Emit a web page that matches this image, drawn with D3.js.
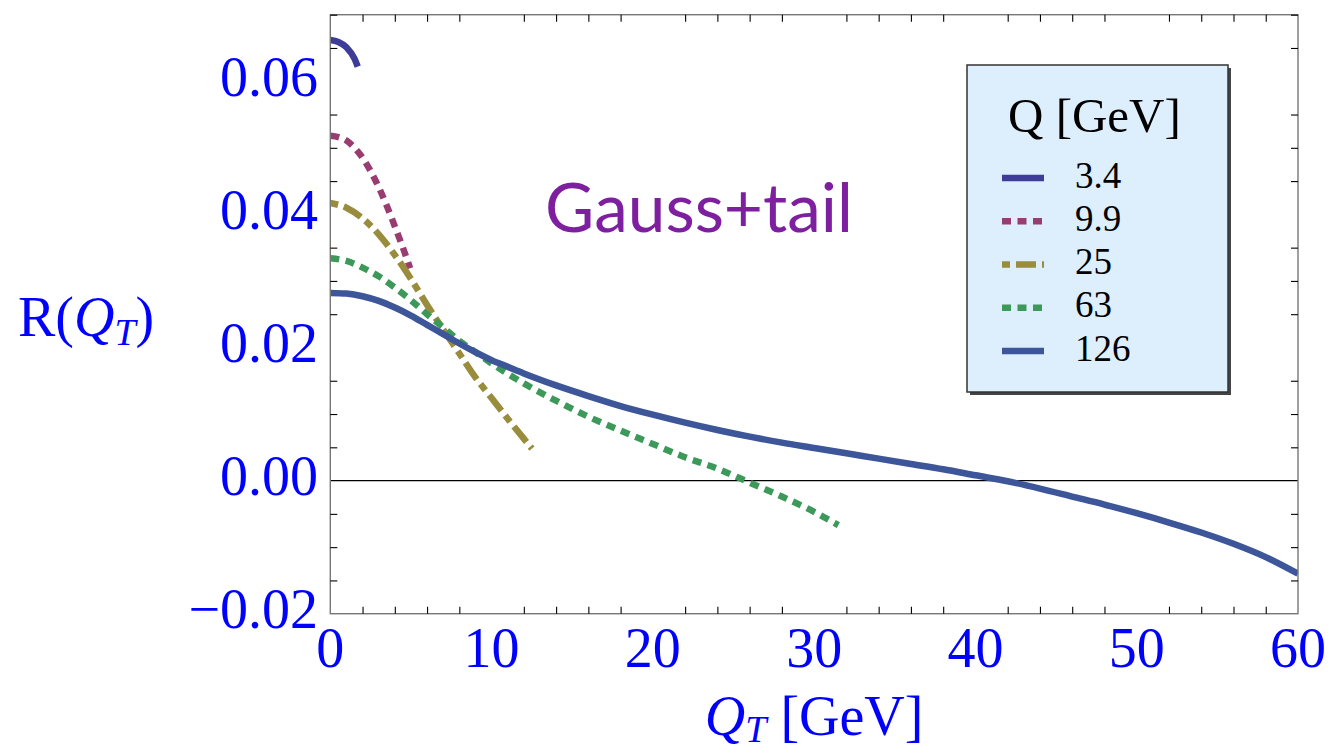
<!DOCTYPE html>
<html>
<head>
<meta charset="utf-8">
<script src="https://cdn.jsdelivr.net/npm/d3@7/dist/d3.min.js"></script>
<style>
  html, body { margin: 0; padding: 0; background: #fff; }
  svg { display: block; }
  .serif { font-family: "Liberation Serif", "Times New Roman", serif; }
</style>
</head>
<body>
<svg id="chart" width="1334" height="754"></svg>
<script>
// R(Q_T) for several hard scales Q, each curve runs up to Q_T = Q/2
const seriesNames = ["3.4", "9.9", "25", "63", "126"];

const qt34 = [0, 0.5, 1, 1.5, 1.7];
const r34  = [0.0662, 0.0659, 0.0651, 0.0634, 0.0622];

const qt99 = [0, 0.5, 1, 1.5, 2, 2.5, 3, 3.5, 4, 4.5, 4.95];
const r99  = [0.0518, 0.0516, 0.0511, 0.0500, 0.0485, 0.0465, 0.0441, 0.0413, 0.0382, 0.0350, 0.0319];

const qt25 = [0, 1, 2, 3, 4, 5, 6, 7, 8, 9, 10, 11, 12, 12.5];
const r25  = [0.0417, 0.0410, 0.0394, 0.0370, 0.0339, 0.0303, 0.0264, 0.0227, 0.0191, 0.0155, 0.0124, 0.0093, 0.0063, 0.0048];

const qt63 = [0, 1, 2, 3, 4, 5, 6, 7, 8, 9, 10, 12, 14, 16, 18, 20, 22, 24, 26, 28, 30, 31.5];
const r63  = [0.0334, 0.0330, 0.0320, 0.0307, 0.0290, 0.0271, 0.0250, 0.0230, 0.0210, 0.0193, 0.0176,
              0.0146, 0.0120, 0.0096, 0.0075, 0.0055, 0.0035, 0.0018, -0.0003, -0.0024, -0.0047, -0.0067];

const qt126 = [0, 1, 2, 3, 4, 5, 6, 7, 8, 9, 10, 11, 12, 14, 16, 18, 20, 22, 24, 26, 28, 30,
               32, 34, 36, 38, 40, 42, 44, 46, 48, 50, 52, 54, 56, 58, 60];
const r126  = [0.0282, 0.0281, 0.0277, 0.0270, 0.0260, 0.0248, 0.0234, 0.0220, 0.0206, 0.0193, 0.0181,
               0.0171, 0.0161, 0.0143, 0.0127, 0.0112, 0.0099, 0.0087, 0.0076, 0.0066, 0.0057, 0.0049,
               0.0041, 0.0033, 0.0025, 0.0017, 0.0008, -0.0001, -0.0012, -0.0024, -0.0036, -0.0049,
               -0.0063, -0.0078, -0.0095, -0.0115, -0.0140];

const xTickValues = [0, 10, 20, 30, 40, 50, 60];
const xTickLabels = ["0", "10", "20", "30", "40", "50", "60"];
const yTickValues = [-0.02, 0, 0.02, 0.04, 0.06];
const yTickLabels = ["\u22120.02", "0.00", "0.02", "0.04", "0.06"];

const colors  = ["#3d3d99", "#993d71", "#998d3d", "#3d9959", "#3d5699"];
const dashes  = [null, "9,6.5", "8,6,20,6", "9,6.5", null];

const seriesQT = [qt34, qt99, qt25, qt63, qt126];
const seriesR  = [r34, r99, r25, r63, r126];

const svg = d3.select("#chart");
const m = { left: 330.3, right: 1298, top: 14.7, bottom: 613.7 };

const x = d3.scaleLinear().domain([0, 60]).range([m.left, m.right]);
const y = d3.scaleLinear().domain([-0.02, 0.07]).range([m.bottom, m.top]);

svg.append("defs").append("clipPath").attr("id", "plotclip")
  .append("rect")
  .attr("x", m.left).attr("y", m.top)
  .attr("width", m.right - m.left).attr("height", m.bottom - m.top);

// zero line
svg.append("line")
  .attr("x1", x(0)).attr("x2", x(60))
  .attr("y1", y(0)).attr("y2", y(0))
  .attr("stroke", "#000").attr("stroke-width", 1.1);

// curves
const line = d3.line()
  .x(d => x(d[0]))
  .y(d => y(d[1]))
  .curve(d3.curveMonotoneX);

const curves = svg.append("g").attr("clip-path", "url(#plotclip)");
seriesNames.forEach((name, i) => {
  const pts = d3.zip(seriesQT[i], seriesR[i]);
  curves.append("path")
    .attr("d", line(pts))
    .attr("fill", "none")
    .attr("stroke", colors[i])
    .attr("stroke-width", 6.5)
    .attr("stroke-dasharray", dashes[i])
    .attr("stroke-linecap", "butt");
});

// frame
svg.append("rect")
  .attr("x", m.left).attr("y", m.top)
  .attr("width", m.right - m.left).attr("height", m.bottom - m.top)
  .attr("fill", "none").attr("stroke", "#777").attr("stroke-width", 1.4);

// inward ticks on all four sides
const xMinor = d3.range(0, 60.001, 2).filter(v => v % 10 !== 0);
const yMinor = d3.range(-0.02, 0.0701, 0.005).filter(v => Math.abs(Math.round(v * 50) - v * 50) > 1e-6);

function tickAxes(axisFn, scale, major, minor, translate) {
  const g = svg.append("g").attr("transform", translate);
  g.call(axisFn(scale).tickValues(major).tickSize(-12).tickFormat(""));
  g.call(axisFn(scale).tickValues(minor).tickSize(-7).tickFormat(""));
  g.selectAll(".domain").remove();
  g.selectAll("line").attr("stroke", "#000").attr("stroke-width", 1.1);
  return g;
}
tickAxes(d3.axisBottom, x, xTickValues, xMinor, `translate(0,${m.bottom})`);
tickAxes(d3.axisTop, x, xTickValues, xMinor, `translate(0,${m.top})`);
tickAxes(d3.axisLeft, y, yTickValues, yMinor, `translate(${m.left},0)`);
tickAxes(d3.axisRight, y, yTickValues, yMinor, `translate(${m.right},0)`);

// tick labels
svg.append("g").selectAll("text")
  .data(xTickValues)
  .join("text")
  .attr("class", "serif")
  .attr("x", d => x(d))
  .attr("y", 667)
  .attr("text-anchor", "middle")
  .attr("font-size", 56)
  .attr("fill", "#0000ff")
  .text((d, i) => xTickLabels[i]);

svg.append("g").selectAll("text")
  .data(yTickValues)
  .join("text")
  .attr("class", "serif")
  .attr("x", 318)
  .attr("y", d => y(d) + 14.5)
  .attr("text-anchor", "end")
  .attr("font-size", 56)
  .attr("fill", "#0000ff")
  .text((d, i) => yTickLabels[i]);

// axis titles
const xTitle = svg.append("text")
  .attr("class", "serif")
  .attr("x", (m.left + m.right) / 2)
  .attr("y", 735)
  .attr("text-anchor", "middle")
  .attr("font-size", 56)
  .attr("fill", "#0000ff");
xTitle.append("tspan").attr("font-style", "italic").text("Q");
xTitle.append("tspan").attr("font-style", "italic").attr("font-size", 38).attr("dy", 7).text("T");
xTitle.append("tspan").attr("dy", -7).text(" [GeV]");

const yTitle = svg.append("text")
  .attr("class", "serif")
  .attr("x", 18)
  .attr("y", 336)
  .attr("font-size", 56)
  .attr("fill", "#0000ff");
yTitle.append("tspan").text("R(");
yTitle.append("tspan").attr("font-style", "italic").text("Q");
yTitle.append("tspan").attr("font-style", "italic").attr("font-size", 38).attr("dy", 9).text("T");
yTitle.append("tspan").attr("dy", -9).text(")");

// model label
svg.append("text")
  .attr("x", 545)
  .attr("y", 232)
  .attr("font-family", "Lato, 'Open Sans', sans-serif")
  .attr("font-size", 68)
  .attr("fill", "#7e1fa0")
  .attr("textLength", 308)
  .attr("lengthAdjust", "spacingAndGlyphs")
  .text("Gauss+tail");

// legend
const lg = { x: 967, y: 65, w: 261, h: 327 };
const legend = svg.append("g");
legend.append("rect")
  .attr("x", lg.x + 3).attr("y", lg.y + 3)
  .attr("width", lg.w).attr("height", lg.h)
  .attr("fill", "#444");
legend.append("rect")
  .attr("x", lg.x).attr("y", lg.y)
  .attr("width", lg.w).attr("height", lg.h)
  .attr("fill", "#ddeefd").attr("stroke", "#333").attr("stroke-width", 1.5);
legend.append("text")
  .attr("class", "serif")
  .attr("x", 1008).attr("y", 132)
  .attr("font-size", 49)
  .attr("fill", "#000")
  .text("Q [GeV]");

const rowY = d3.scaleLinear().domain([0, 4]).range([178, 351]);
seriesNames.forEach((name, i) => {
  legend.append("line")
    .attr("x1", 1002).attr("x2", 1044)
    .attr("y1", rowY(i)).attr("y2", rowY(i))
    .attr("stroke", colors[i])
    .attr("stroke-width", 6.5)
    .attr("stroke-dasharray", dashes[i]);
  legend.append("text")
    .attr("class", "serif")
    .attr("x", 1075).attr("y", rowY(i) + 9.5)
    .attr("font-size", 37)
    .attr("fill", "#000")
    .text(name);
});
</script>
</body>
</html>
